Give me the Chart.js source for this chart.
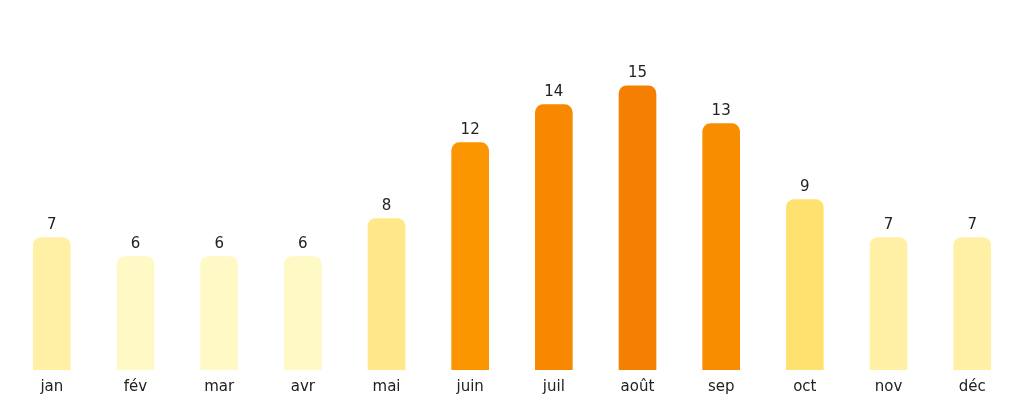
<!DOCTYPE html>
<html>
<head>
<meta charset="utf-8">
<script src="https://cdn.jsdelivr.net/npm/chart.js@4"></script>
<style>
html,body{margin:0;padding:0;background:#fff;}
#wrap{width:1024px;height:404px;}
</style>
</head>
<body>
<div id="wrap"><canvas id="chart"></canvas></div>
<script>
const months=["jan","fév","mar","avr","mai","juin","juil","août","sep","oct","nov","déc"];
const values=[7,6,6,6,8,12,14,15,13,9,7,7];
const barColors=["#FFF0A6","#FFF9C6","#FFF9C6","#FFF9C6","#FFE78A","#FB9600","#F88800","#F57F00","#F98D00","#FFE170","#FFF0A6","#FFF0A6"];

// value labels above bars
const valueLabels={
id:"valueLabels",
afterDatasetsDraw(chart){
const c=chart.ctx;
const meta=chart.getDatasetMeta(0);
c.save();
c.font="15px 'DejaVu Sans'";
c.fillStyle="#222";
c.textAlign="center";
c.textBaseline="bottom";
meta.data.forEach((bar,i)=>{
c.fillText(values[i],bar.x,bar.y-5);
});
c.restore();
}
};

new Chart(document.getElementById("chart"),{
type:"bar",
data:{
labels:months,
datasets:[{
data:values,
backgroundColor:barColors,
borderRadius:{topLeft:8,topRight:8,bottomLeft:0,bottomRight:0},
borderSkipped:"bottom",
categoryPercentage:1,
barPercentage:0.45
}]
},
options:{
responsive:true,
maintainAspectRatio:false,
animation:false,
layout:{padding:{left:10,right:10,top:0,bottom:8}},
plugins:{legend:{display:false},tooltip:{enabled:false}},
scales:{
x:{
grid:{display:false},
border:{display:false},
ticks:{color:"#222",font:{family:"DejaVu Sans",size:15},padding:0}
},
y:{
display:false,
min:0,
max:19.5
}
}
},
plugins:[valueLabels]
});
</script>
</body>
</html>
